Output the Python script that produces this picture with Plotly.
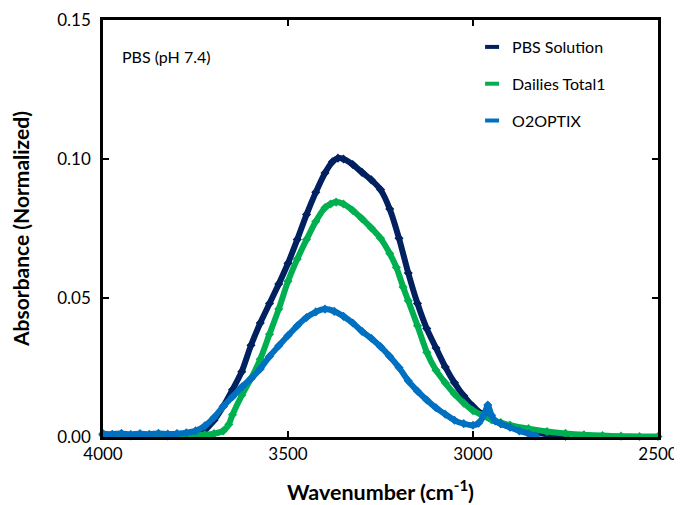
import plotly.graph_objects as go

# ---- data (wavenumber cm-1, absorbance) ----
pbs_wn = [4000, 3975, 3950, 3925, 3900, 3875, 3850, 3825, 3800, 3775, 3750, 3725, 3700, 3675, 3650,
          3625, 3600, 3575, 3550, 3525, 3500, 3475, 3450, 3425, 3400, 3380, 3365, 3350, 3325,
          3300, 3275, 3250, 3225, 3200, 3175, 3150, 3125, 3100, 3075, 3050, 3025, 3000, 2975,
          2950, 2925, 2900, 2875, 2850, 2800, 2750]
pbs_abs = [0.0010, 0.0008, 0.0011, 0.0007, 0.0009, 0.0006, 0.0010, 0.0008, 0.0011, 0.0009, 0.0013, 0.0025, 0.0060, 0.0110, 0.0170,
           0.0235, 0.0330, 0.0410, 0.0480, 0.0550, 0.0625, 0.0710, 0.0800, 0.0880, 0.0950, 0.0990, 0.1003, 0.1000, 0.0980,
           0.0952, 0.0925, 0.0890, 0.0820, 0.0715, 0.0590, 0.0480, 0.0390, 0.0320, 0.0252, 0.0195, 0.0148, 0.0110, 0.0082,
           0.0063, 0.0048, 0.0036, 0.0027, 0.0020, 0.0010, 0.0003]

dt1_wn = [4000, 3975, 3950, 3925, 3900, 3875, 3850, 3825, 3800, 3775, 3750, 3725, 3700, 3675, 3660, 3650,
          3625, 3600, 3575, 3550, 3525, 3500, 3475, 3450, 3425, 3400, 3385, 3370, 3350, 3325,
          3300, 3275, 3250, 3225, 3207, 3189, 3175, 3150, 3125, 3100, 3075, 3050, 3025, 3000,
          2975, 2950, 2925, 2900, 2850, 2800, 2750, 2700, 2650, 2600, 2550, 2500]
dt1_abs = [0.0006, 0.0005, 0.0007, 0.0004, 0.0006, 0.0005, 0.0007, 0.0004, 0.0006, 0.0005, 0.0006, 0.0008, 0.0012, 0.0022, 0.0045, 0.0080,
           0.0150, 0.0210, 0.0280, 0.0370, 0.0460, 0.0560, 0.0640, 0.0710, 0.0775, 0.0825, 0.0838, 0.0845, 0.0838, 0.0815,
           0.0785, 0.0752, 0.0715, 0.0660, 0.0610, 0.0540, 0.0490, 0.0400, 0.0305, 0.0240, 0.0195, 0.0155, 0.0122, 0.0095,
           0.0078, 0.0062, 0.0052, 0.0043, 0.0030, 0.0020, 0.0013, 0.0008, 0.0005, 0.0003, 0.0002, 0.0002]

o2_wn = [4000, 3975, 3950, 3925, 3900, 3875, 3850, 3825, 3800, 3775, 3750, 3725, 3700, 3675, 3650,
         3625, 3600, 3575, 3550, 3525, 3500, 3475, 3450, 3425, 3400, 3375, 3350, 3325, 3300,
         3275, 3250, 3225, 3200, 3175, 3150, 3125, 3100, 3075, 3050, 3025, 3000, 2985, 2970,
         2960, 2950, 2940, 2925, 2900, 2875, 2850, 2830]
o2_abs = [0.0012, 0.0010, 0.0013, 0.0009, 0.0012, 0.0010, 0.0013, 0.0011, 0.0012, 0.0015, 0.0022, 0.0040, 0.0070, 0.0110, 0.0145,
          0.0180, 0.0210, 0.0245, 0.0290, 0.0328, 0.0365, 0.0400, 0.0430, 0.0450, 0.0460, 0.0452, 0.0434, 0.0410, 0.0380,
          0.0355, 0.0325, 0.0290, 0.0250, 0.0202, 0.0165, 0.0133, 0.0105, 0.0082, 0.0060, 0.0048, 0.0042, 0.0050, 0.0080,
          0.0115, 0.0078, 0.0058, 0.0048, 0.0035, 0.0022, 0.0012, 0.0004]

names = ["PBS Solution", "Dailies Total1", "O2OPTIX"]
colors = ["#002060", "#00b050", "#0070c0"]
series = [(pbs_wn, pbs_abs), (dt1_wn, dt1_abs), (o2_wn, o2_abs)]

x_ticks = [4000, 3500, 3000, 2500]
y_ticks = [0.00, 0.05, 0.10, 0.15]

FONT = "Lato"

fig = go.Figure()
for (wn, ab), name, col in zip(series, names, colors):
    fig.add_trace(go.Scatter(
        x=wn, y=ab, mode="lines+markers", name=name, showlegend=False,
        line=dict(color=col, width=6, shape="spline", smoothing=0.6),
        marker=dict(symbol="diamond", size=7, color=col),
        cliponaxis=False,
    ))
# legend entries (short dash symbols)
for i, (name, col) in enumerate(zip(names, colors)):
    fig.add_trace(go.Scatter(
        x=[None], y=[None], mode="markers", name=name, legendgroup=f"g{i}",
        marker=dict(symbol="line-ew", size=10, color=col, line=dict(color=col, width=4)),
    ))

axis_common = dict(
    showline=True, linecolor="black", linewidth=2.5, mirror="ticks",
    ticks="inside", ticklen=6, tickwidth=2, tickcolor="black",
    showgrid=False, zeroline=False, automargin=False,
    tickfont=dict(family=FONT, size=17, color="black"),
)

# the page body adds an 8px offset, so the figure is sized 8px smaller
fig.update_layout(
    width=674, height=497,
    margin=dict(l=95, r=24, t=12, b=68),
    paper_bgcolor="white", plot_bgcolor="white",
    xaxis=dict(range=[4000, 2500], tickvals=x_ticks, ticktext=[str(v) for v in x_ticks],
               title=dict(text="<b>Wavenumber (cm<sup>-1</sup>)</b>", font=dict(family=FONT, size=21.5, color="black"),
                          standoff=22),
               **axis_common),
    yaxis=dict(range=[0, 0.15], tickvals=y_ticks, ticktext=[f"{v:.2f}" for v in y_ticks],
               ticklabelstandoff=6,
               title=dict(text="<b>Absorbance (Normalized)</b>", font=dict(family=FONT, size=21, color="black"),
                          standoff=23),
               **axis_common),
    legend=dict(x=0.665, y=0.976, xanchor="left", yanchor="top", bgcolor="rgba(0,0,0,0)",
                font=dict(family=FONT, size=16, color="black"), tracegroupgap=13,
                itemwidth=30),
    showlegend=True,
    annotations=[dict(text="PBS (pH 7.4)", xref="paper", yref="paper", x=0.03, y=0.912,
                      xanchor="left", yanchor="middle", showarrow=False,
                      font=dict(family=FONT, size=16, color="black"))],
)

fig.write_html("out.html")
